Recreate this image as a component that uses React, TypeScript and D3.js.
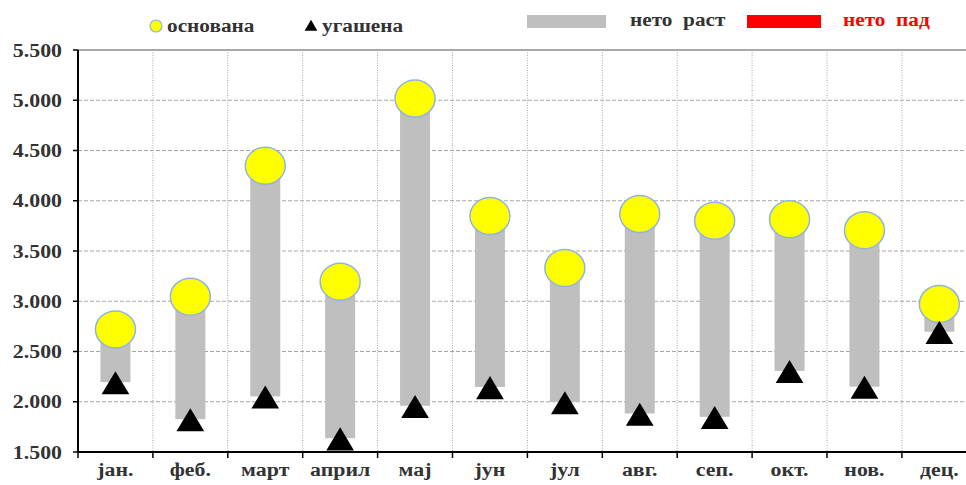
import React from "react";
import * as d3 from "d3";

// months on the x axis
const months = ["јан.", "феб.", "март", "април", "мај", "јун", "јул", "авг.", "сеп.", "окт.", "нов.", "дец."];
// founded companies (yellow circles)
const founded = [2720, 3045, 4348, 3195, 5017, 3848, 3331, 3868, 3801, 3815, 3707, 2973];
// closed companies (black triangles)
const closed = [2195, 1827, 2053, 1637, 1960, 2147, 1997, 1883, 1850, 2307, 2150, 2697];
const yTicks = [1500, 2000, 2500, 3000, 3500, 4000, 4500, 5000, 5500];

const W = 966;
const H = 485;
const left = 78;
const top = 50;
const bottom = 452;
const step = 74.9;

const fmt = (v: number) => d3.format(",")(v).replace(/,/g, ".");
const FONT = "Liberation Serif";

const App: React.FC = () => {
  const x = d3
    .scaleBand<string>()
    .domain(months)
    .range([left, left + step * months.length])
    .padding(0);
  const y = d3.scaleLinear().domain([1500, 5500]).range([bottom, top]);
  const bw = x.bandwidth();
  const barW = 30;
  const tri = d3.symbol().type(d3.symbolTriangle).size(320);

  const bounds = months.map((m) => x(m) as number).concat([left + step * months.length]);

  return (
    <div style={{ position: "absolute", left: 0, top: 0 }}>
      <svg width={W} height={H} style={{ display: "block", background: "#fff" }}>
        {/* horizontal grid */}
        {yTicks.map((t) =>
          t === 5500 ? (
            <line key={t} x1={left} x2={W} y1={y(t)} y2={y(t)} stroke="#8c8c8c" strokeWidth={1.5} />
          ) : (
            <line key={t} x1={left} x2={W} y1={y(t)} y2={y(t)} stroke="#a6a6a6" strokeWidth={1} strokeDasharray="4,2" />
          )
        )}
        {/* vertical grid */}
        {bounds.slice(1).map((b, i) => (
          <line key={i} x1={b} x2={b} y1={top} y2={bottom} stroke="#a6a6a6" strokeWidth={1} strokeDasharray="1,1.5" />
        ))}
        {/* net bars */}
        {months.map((m, i) => {
          const hi = Math.max(founded[i], closed[i]);
          const lo = Math.min(founded[i], closed[i]);
          return (
            <rect
              key={m}
              x={(x(m) as number) + bw / 2 - barW / 2}
              y={y(hi)}
              width={barW}
              height={y(lo) - y(hi)}
              fill={founded[i] >= closed[i] ? "#bfbfbf" : "#ff0000"}
            />
          );
        })}
        {/* axes */}
        <line x1={left} x2={left} y1={top} y2={bottom + 1} stroke="#000" strokeWidth={2} />
        <line x1={left} x2={W} y1={bottom} y2={bottom} stroke="#000" strokeWidth={2} />
        {yTicks.map((t) => (
          <line key={"yt" + t} x1={left - 5} x2={left} y1={y(t)} y2={y(t)} stroke="#000" strokeWidth={1.5} />
        ))}
        {bounds.map((b, i) => (
          <line key={"xt" + i} x1={b} x2={b} y1={bottom} y2={bottom + 6} stroke="#000" strokeWidth={1.5} />
        ))}
        {yTicks.map((t) => (
          <text
            key={"yl" + t}
            transform={`translate(62,${y(t) + 6.5}) scale(1.15,1)`}
            textAnchor="end"
            fontFamily={FONT}
            fontWeight="bold"
            fontSize={19}
            fill="#333"
          >
            {fmt(t)}
          </text>
        ))}
        {months.map((m) => (
          <text
            key={"xl" + m}
            transform={`translate(${(x(m) as number) + bw / 2},${476}) scale(1.15,1)`}
            textAnchor="middle"
            fontFamily={FONT}
            fontWeight="bold"
            fontSize={19}
            fill="#333"
          >
            {m}
          </text>
        ))}
        {/* founded markers */}
        {months.map((m, i) => (
          <ellipse
            key={"c" + m}
            cx={(x(m) as number) + bw / 2}
            cy={y(founded[i])}
            rx={20}
            ry={18.5}
            fill="#ffff00"
            stroke="#8eb4e3"
            strokeWidth={1.5}
          />
        ))}
        {/* closed markers */}
        {months.map((m, i) => (
          <path
            key={"t" + m}
            d={tri() as string}
            transform={`translate(${(x(m) as number) + bw / 2},${y(closed[i]) + 4.5}) scale(1.02,0.98)`}
            fill="#000"
          />
        ))}
        {/* legend */}
        <circle cx={156} cy={26} r={6} fill="#ffff00" stroke="#8eb4e3" strokeWidth={1.2} />
        <text transform="translate(167,32) scale(1.12,1)" fontFamily={FONT} fontWeight="bold" fontSize={19} fill="#333">
          основана
        </text>
        <path d={d3.symbol().type(d3.symbolTriangle).size(70)() as string} transform="translate(311,27)" fill="#000" />
        <text transform="translate(322,32) scale(1.12,1)" fontFamily={FONT} fontWeight="bold" fontSize={19} fill="#333">
          угашена
        </text>
        <rect x={527} y={15} width={79} height={13} fill="#bfbfbf" />
        <text
          transform="translate(630,26) scale(1.12,1)"
          fontFamily={FONT}
          fontWeight="bold"
          fontSize={19}
          fill="#333"
          style={{ whiteSpace: "pre" }}
        >
          {"нето  раст"}
        </text>
        <rect x={747} y={15} width={74} height={13} fill="#ff0000" />
        <text
          transform="translate(843,26) scale(1.12,1)"
          fontFamily={FONT}
          fontWeight="bold"
          fontSize={19}
          fill="#ff0000"
          style={{ whiteSpace: "pre" }}
        >
          {"нето  пад"}
        </text>
      </svg>
    </div>
  );
};

export default App;
